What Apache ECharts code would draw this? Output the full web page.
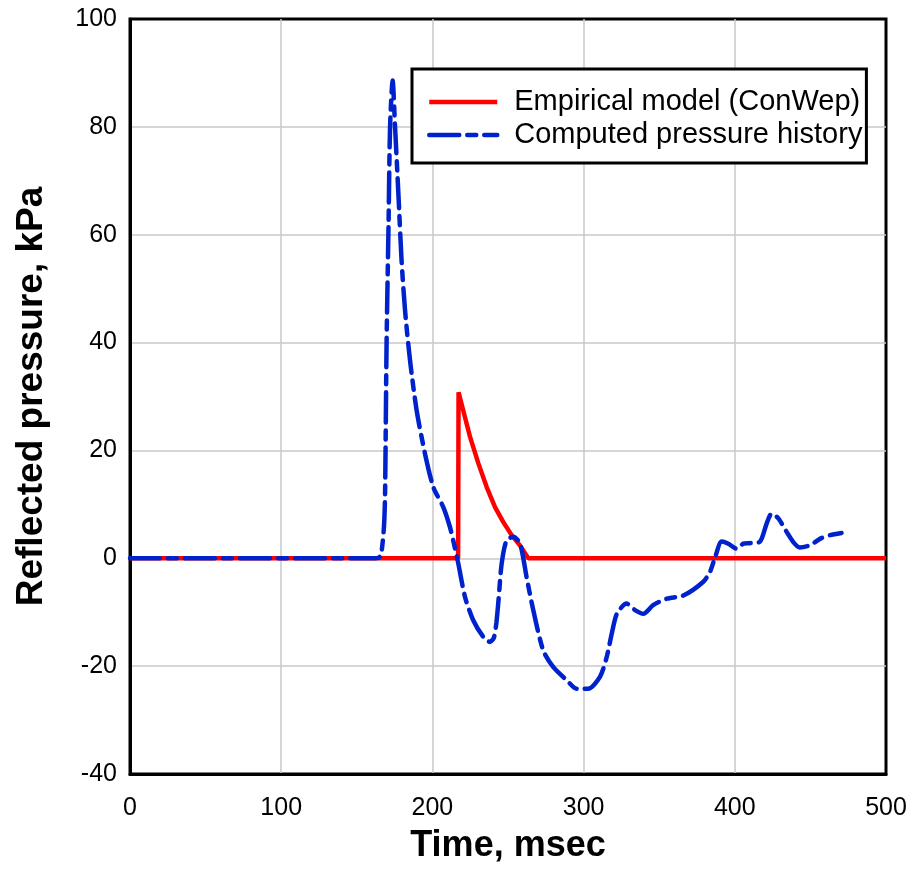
<!DOCTYPE html>
<html>
<head>
<meta charset="utf-8">
<script src="https://cdn.jsdelivr.net/npm/echarts@6/dist/echarts.min.js"></script>
<style>
  html, body { margin: 0; padding: 0; background: #fff; }
  #chart { width: 916px; height: 870px; }
</style>
</head>
<body>
<div id="chart"></div>
<script>
  // ConWep empirical reflected pressure (msec, kPa)
  var empiricalTime = [0, 217, 217.3, 220.4, 224.9, 230.4, 235.9, 241.4, 246.9, 252.4, 257.9, 263.4, 500];
  var empiricalPressure = [0, 0, 30.8, 27.4, 22.5, 17.6, 13.2, 9.5, 6.7, 4.3, 2.4, 0, 0];

  // computed pressure history (msec, kPa)
  var computedTime = [0, 160, 165, 166.5, 168, 168.7, 169.7, 171, 172, 173.7, 175.3, 177.5, 179.6, 181.9,
    185.2, 189.6, 195.1, 200.6, 207.2, 211.6, 214, 217, 221.6, 227, 233.7, 238, 240.6, 242.3, 243.8, 245.8,
    249, 253.5, 258, 262.3, 266.7, 273.3, 280, 288.8, 295.4, 303, 310.8, 315.3, 318.6, 322, 328.4,
    334, 339.5, 346, 355, 366, 379, 383.6, 387, 391.3, 395.7, 401, 405.6, 410, 416.7, 421, 424.4,
    428.8, 434.3, 438.7, 443, 449.7, 456.3, 463, 470.6];
  var computedPressure = [0, 0, 0.2, 1.5, 6, 12, 40, 62, 80, 88.6, 80, 67.6, 55.3, 46,
    36.7, 27.4, 19.4, 13.2, 9.5, 5.8, 3, -0.8, -7.2, -11.5, -14.6, -15.5, -14.8, -12, -7.5, -1,
    3.3, 4, 2.7, -3.5, -9.6, -17.1, -20.2, -22.6, -24.2, -24.2, -22, -18.3, -14, -10.3, -8.4,
    -9.6, -10.3, -8.7, -7.5, -6.9, -4.4, -2.5, 0.2, 3.1, 2.7, 1.8, 2.7, 2.8, 3.1, 6.4, 8.3,
    7.4, 4.9, 3.0, 2.0, 2.4, 3.6, 4.3, 4.7];

  var xTicks = [0, 100, 200, 300, 400, 500];
  var yTicks = [-40, -20, 0, 20, 40, 60, 80, 100];

  function pairs (xs, ys) {
    return xs.map(function (x, i) { return [x, ys[i]]; });
  }

  var font = '"Liberation Sans", Arial, Helvetica, sans-serif';
  var myChart = echarts.init(document.getElementById('chart'));
  myChart.setOption({
    animation: false,
    textStyle: { fontFamily: font },
    grid: {
      left: 130,
      right: 30,
      top: 19,
      bottom: 96,
      show: true,
      borderColor: '#000',
      borderWidth: 3,
      backgroundColor: 'transparent'
    },
    legend: {
      orient: 'vertical',
      left: 412,
      top: 69,
      padding: [18, 4, 13, 15],
      itemGap: 3,
      itemWidth: 68,
      itemHeight: 30,
      borderColor: '#000',
      borderWidth: 3,
      backgroundColor: '#fff',
      itemStyle: { opacity: 0 },
      lineStyle: { width: 4.5 },
      textStyle: {
        fontFamily: font,
        fontSize: 29,
        lineHeight: 30,
        color: '#000',
        padding: [0, 0, 0, 12]
      },
      data: ['Empirical model (ConWep)', 'Computed pressure history']
    },
    xAxis: {
      type: 'value',
      min: xTicks[0],
      max: xTicks[xTicks.length - 1],
      interval: 100,
      name: 'Time, msec',
      nameLocation: 'middle',
      nameGap: 54,
      nameTextStyle: { fontSize: 36, fontWeight: 'bold', color: '#000', fontFamily: font },
      axisLine: { show: true, onZero: false, lineStyle: { color: '#000', width: 3 } },
      axisTick: { show: false },
      axisLabel: { fontSize: 25, color: '#000', margin: 22 },
      splitLine: { showMinLine: false, showMaxLine: false, lineStyle: { color: '#c8c8c8', width: 1.5 } }
    },
    yAxis: {
      type: 'value',
      min: yTicks[0],
      max: yTicks[yTicks.length - 1],
      interval: 20,
      name: 'Reflected pressure, kPa',
      nameLocation: 'middle',
      nameGap: 80,
      nameTextStyle: { fontSize: 37, fontWeight: 'bold', color: '#000', fontFamily: font },
      axisLine: { show: true, onZero: false, lineStyle: { color: '#000', width: 3 } },
      axisTick: { show: false },
      axisLabel: { fontSize: 25, color: '#000', margin: 13 },
      splitLine: { showMinLine: false, showMaxLine: false, lineStyle: { color: '#c8c8c8', width: 1.5 } }
    },
    series: [{
      name: 'Empirical model (ConWep)',
      type: 'line',
      showSymbol: false,
      symbol: 'none',
      color: '#ff0000',
      lineStyle: { color: '#ff0000', width: 4.5 },
      data: pairs(empiricalTime, empiricalPressure)
    }, {
      name: 'Computed pressure history',
      type: 'line',
      showSymbol: false,
      symbol: 'none',
      smooth: 0.25,
      color: '#0022cc',
      lineStyle: { color: '#0022cc', width: 4.5, type: [30, 8, 9, 8], cap: 'round' },
      data: pairs(computedTime, computedPressure)
    }]
  });
</script>
</body>
</html>
